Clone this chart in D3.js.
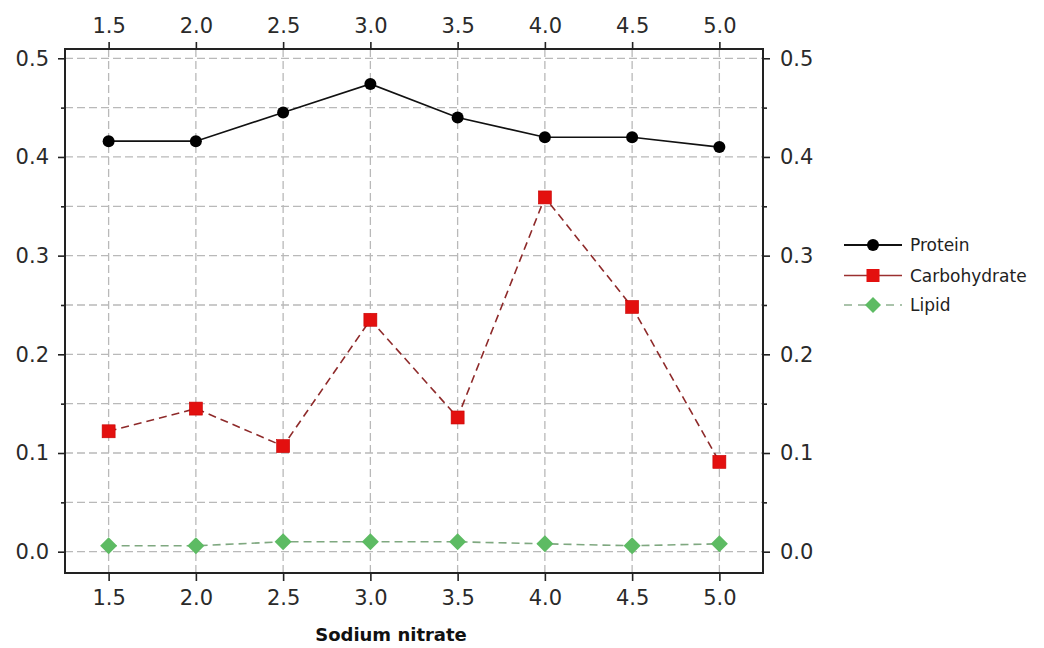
<!DOCTYPE html>
<html><head><meta charset="utf-8">
<script src="https://cdn.jsdelivr.net/npm/d3@7"></script>
<style>
body{margin:0;background:#fff;}
svg{display:block;}
.tick text{font-family:"DejaVu Sans",sans-serif;font-size:21px;fill:#2a2a2a;}
</style></head>
<body><svg id="c" width="1044" height="648"></svg>
<script>
const xValues = [1.5, 2.0, 2.5, 3.0, 3.5, 4.0, 4.5, 5.0];
const protein = [0.416, 0.416, 0.445, 0.474, 0.440, 0.420, 0.420, 0.410];
const carbohydrate = [0.122, 0.145, 0.107, 0.235, 0.136, 0.359, 0.248, 0.091];
const lipid = [0.006, 0.006, 0.010, 0.010, 0.010, 0.008, 0.006, 0.008];
const seriesNames = ["Protein", "Carbohydrate", "Lipid"];
const yMajorTicks = [0.0, 0.1, 0.2, 0.3, 0.4, 0.5];
const yMinorTicks = [0.05, 0.15, 0.25, 0.35, 0.45];
const xTitle = "Sodium nitrate";

const svg = d3.select("#c");
const L = 65, T = 49, W = 698, H = 524;
const x = d3.scaleLinear().domain([1.25, 5.25]).range([L, L + W]);
const y = d3.scaleLinear().domain([-0.0216, 0.5094]).range([T + H, T]);

// grid
const gridCol = "#b9b9b9";
svg.append("g").selectAll("line").data(yMajorTicks.concat(yMinorTicks)).join("line")
  .attr("x1", L).attr("x2", L + W).attr("y1", d => y(d)).attr("y2", d => y(d))
  .attr("stroke", gridCol).attr("stroke-width", 1.3).attr("stroke-dasharray", "8,4");
svg.append("g").selectAll("line").data(xValues).join("line")
  .attr("y1", T).attr("y2", T + H).attr("x1", d => x(d)).attr("x2", d => x(d))
  .attr("stroke", gridCol).attr("stroke-width", 1.3).attr("stroke-dasharray", "8,4");

// axes
const fmt = d3.format(".1f");
function style(g){ g.select(".domain").remove(); g.selectAll(".tick line").attr("stroke","#222").attr("stroke-width",1.6); }
svg.append("g").attr("transform", `translate(${L},0)`).call(d3.axisLeft(y).tickValues(yMajorTicks).tickFormat(fmt).tickSize(7).tickPadding(9)).call(style);
svg.append("g").attr("transform", `translate(${L},0)`).call(d3.axisLeft(y).tickValues(yMinorTicks).tickFormat("").tickSize(4)).call(style);
svg.append("g").attr("transform", `translate(${L+W},0)`).call(d3.axisRight(y).tickValues(yMajorTicks).tickFormat(fmt).tickSize(7).tickPadding(10)).call(style);
svg.append("g").attr("transform", `translate(${L+W},0)`).call(d3.axisRight(y).tickValues(yMinorTicks).tickFormat("").tickSize(4)).call(style);
svg.append("g").attr("transform", `translate(0,${T+H})`).call(d3.axisBottom(x).tickValues(xValues).tickFormat(fmt).tickSize(8).tickPadding(9)).call(style);
svg.append("g").attr("transform", `translate(0,${T})`).call(d3.axisTop(x).tickValues(xValues).tickFormat(fmt).tickSize(7).tickPadding(9)).call(style);

// frame
svg.append("rect").attr("x", L).attr("y", T).attr("width", W).attr("height", H)
  .attr("fill", "none").attr("stroke", "#222").attr("stroke-width", 2);

// series
const line = d3.line().x(d => x(d[0])).y(d => y(d[1]));
const pts = arr => xValues.map((v, i) => [v, arr[i]]);

svg.append("path").datum(pts(lipid)).attr("d", line).attr("fill", "none")
  .attr("stroke", "#7fa880").attr("stroke-width", 1.6).attr("stroke-dasharray", "8,5");
svg.append("path").datum(pts(carbohydrate)).attr("d", line).attr("fill", "none")
  .attr("stroke", "#8e2a2a").attr("stroke-width", 1.6).attr("stroke-dasharray", "8,5");
svg.append("path").datum(pts(protein)).attr("d", line).attr("fill", "none")
  .attr("stroke", "#111").attr("stroke-width", 1.6);

const diamond = s => `M0,${-s}L${s},0L0,${s}L${-s},0Z`;
svg.append("g").selectAll("path").data(pts(lipid)).join("path")
  .attr("transform", d => `translate(${x(d[0])},${y(d[1])})`).attr("d", diamond(8.5)).attr("fill", "#5dbb63");
svg.append("g").selectAll("rect").data(pts(carbohydrate)).join("rect")
  .attr("x", d => x(d[0]) - 6.5).attr("y", d => y(d[1]) - 6.5).attr("width", 13).attr("height", 13)
  .attr("fill", "#e3100f").attr("stroke", "#c80000").attr("stroke-width", 0.6);
svg.append("g").selectAll("circle").data(pts(protein)).join("circle")
  .attr("cx", d => x(d[0])).attr("cy", d => y(d[1])).attr("r", 6).attr("fill", "#000");

// x title
svg.append("text").attr("x", 391).attr("y", 641).attr("text-anchor", "middle")
  .attr("font-family", "DejaVu Sans, sans-serif").attr("font-weight", "bold").attr("font-size", 18)
  .attr("fill", "#111").text(xTitle);

// legend
const lg = svg.append("g");
const ly = [245, 275.5, 305];
const lx1 = 844, lx2 = 902, lm = 873;
lg.append("line").attr("x1", lx1).attr("x2", lx2).attr("y1", ly[0]).attr("y2", ly[0]).attr("stroke", "#111").attr("stroke-width", 1.8);
lg.append("circle").attr("cx", lm).attr("cy", ly[0]).attr("r", 6).attr("fill", "#000");
lg.append("line").attr("x1", lx1).attr("x2", lx2).attr("y1", ly[1]).attr("y2", ly[1]).attr("stroke", "#9b3030").attr("stroke-width", 1.6);
lg.append("rect").attr("x", lm - 6.5).attr("y", ly[1] - 6.5).attr("width", 13).attr("height", 13).attr("fill", "#e3100f");
lg.append("line").attr("x1", lx1).attr("x2", lx2).attr("y1", ly[2]).attr("y2", ly[2]).attr("stroke", "#8fb090").attr("stroke-width", 1.6).attr("stroke-dasharray", "8,6");
lg.append("path").attr("transform", `translate(${lm},${ly[2]})`).attr("d", diamond(8)).attr("fill", "#5dbb63");
lg.selectAll("text").data(seriesNames).join("text")
  .attr("x", 910).attr("y", (d, i) => ly[i] + 6)
  .attr("font-family", "DejaVu Sans, sans-serif").attr("font-size", 17).attr("fill", "#222").text(d => d);
</script></body></html>
